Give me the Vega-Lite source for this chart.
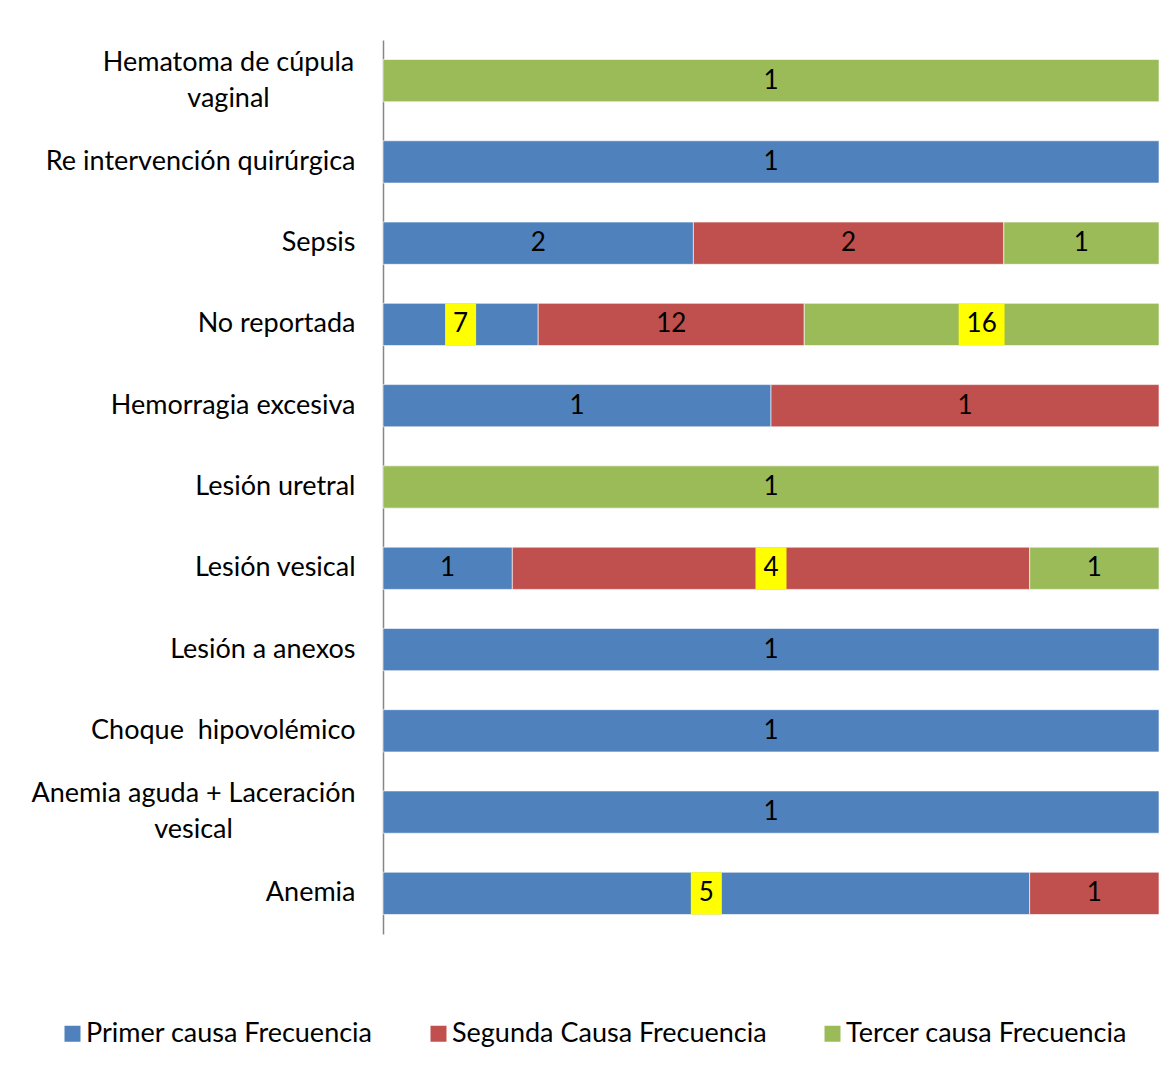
{
  "$schema": "https://vega.github.io/schema/vega-lite/v6.json",
  "width": 776,
  "height": 894,
  "autosize": "none",
  "padding": {"left": 383, "top": 40, "right": 13, "bottom": 154},
  "background": "white",
  "config": {
    "view": {"stroke": null},
    "font": "Lato",
    "text": {"font": "Lato"}
  },
  "data": {
    "values": [
      {"cat": "Hematoma de cúpula vaginal", "causa": "Tercer causa Frecuencia", "value": 1},
      {"cat": "Re intervención quirúrgica", "causa": "Primer causa Frecuencia", "value": 1},
      {"cat": "Sepsis", "causa": "Primer causa Frecuencia", "value": 2},
      {"cat": "Sepsis", "causa": "Segunda Causa Frecuencia", "value": 2},
      {"cat": "Sepsis", "causa": "Tercer causa Frecuencia", "value": 1},
      {"cat": "No reportada", "causa": "Primer causa Frecuencia", "value": 7},
      {"cat": "No reportada", "causa": "Segunda Causa Frecuencia", "value": 12},
      {"cat": "No reportada", "causa": "Tercer causa Frecuencia", "value": 16},
      {"cat": "Hemorragia excesiva", "causa": "Primer causa Frecuencia", "value": 1},
      {"cat": "Hemorragia excesiva", "causa": "Segunda Causa Frecuencia", "value": 1},
      {"cat": "Lesión uretral", "causa": "Tercer causa Frecuencia", "value": 1},
      {"cat": "Lesión vesical", "causa": "Primer causa Frecuencia", "value": 1},
      {"cat": "Lesión vesical", "causa": "Segunda Causa Frecuencia", "value": 4},
      {"cat": "Lesión vesical", "causa": "Tercer causa Frecuencia", "value": 1},
      {"cat": "Lesión a anexos", "causa": "Primer causa Frecuencia", "value": 1},
      {"cat": "Choque  hipovolémico ", "causa": "Primer causa Frecuencia", "value": 1},
      {"cat": "Anemia aguda + Laceración vesical", "causa": "Primer causa Frecuencia", "value": 1},
      {"cat": "Anemia", "causa": "Primer causa Frecuencia", "value": 5},
      {"cat": "Anemia", "causa": "Segunda Causa Frecuencia", "value": 1}
    ]
  },
  "encoding": {
    "y": {
      "field": "cat",
      "type": "nominal",
      "sort": null,
      "scale": {"paddingInner": 0.48, "paddingOuter": 0.24},
      "axis": {
        "title": null,
        "ticks": false,
        "domainColor": "#868686",
        "domainWidth": 1.5,
        "labelFont": "Lato",
        "labelFontSize": 27,
        "labelColor": "#000000",
        "labelPadding": {"condition": [
          {"test": "datum.value == 'Hematoma de cúpula vaginal'", "value": 155},
          {"test": "datum.value == 'Anemia aguda + Laceración vesical'", "value": 190}
        ], "value": 28},
        "labelAlign": {"condition": {"test": "datum.value == 'Hematoma de cúpula vaginal' || datum.value == 'Anemia aguda + Laceración vesical'", "value": "center"}, "value": "right"},
        "labelOffset": {"condition": {"test": "datum.value == 'Hematoma de cúpula vaginal' || datum.value == 'Anemia aguda + Laceración vesical'", "value": -18}, "value": 0},
        "labelLimit": 400,
        "labelLineHeight": 36,
        "labelExpr": "datum.value == 'Hematoma de cúpula vaginal' ? ['Hematoma de cúpula', 'vaginal'] : datum.value == 'Anemia aguda + Laceración vesical' ? ['Anemia aguda + Laceración', 'vesical'] : datum.value == 'Choque  hipovolémico ' ? 'Choque\u00a0\u00a0hipovolémico\u00a0' : datum.value"
      }
    }
  },
  "layer": [
    {
      "mark": {"type": "bar", "stroke": "white", "strokeWidth": 1, "strokeOpacity": 0.6},
      "encoding": {
        "x": {"field": "value", "type": "quantitative", "stack": "normalize", "axis": null, "scale": {"domain": [0, 1], "nice": false}},
        "order": {"field": "causa"},
        "color": {
          "field": "causa",
          "type": "nominal",
          "scale": {
            "domain": ["Primer causa Frecuencia", "Segunda Causa Frecuencia", "Tercer causa Frecuencia"],
            "range": ["#4F81BD", "#C0504D", "#9BBB59"]
          },
          "legend": {
            "title": null,
            "orient": "none",
            "direction": "horizontal",
            "legendX": -324,
            "legendY": 980,
            "symbolType": "square",
            "symbolSize": 256,
            "symbolStrokeWidth": 0,
            "labelFont": "Lato",
            "labelFontSize": 27,
            "labelColor": "#000000",
            "labelOffset": 0,
            "labelLimit": 400,
            "columnPadding": 52,
            "padding": 0
          }
        }
      }
    },
    {
      "mark": {"type": "point", "filled": true, "size": 961, "color": "#FFFF00", "strokeWidth": 0},
      "encoding": {
        "x": {"field": "value", "type": "quantitative", "stack": "normalize", "bandPosition": 0.5},
        "detail": {"field": "causa"},
        "order": {"field": "causa"},
        "shape": {"condition": {"test": "datum.value >= 10", "value": "M-1.48,-1.36H1.48V1.36H-1.48Z"}, "value": "M-1,-1.36H1V1.36H-1Z"},
        "opacity": {"condition": {"test": "indexof([4, 5, 7, 16], datum.value) >= 0", "value": 1}, "value": 0}
      }
    },
    {
      "mark": {"type": "text", "fontSize": 26, "color": "#000000", "font": "Lato"},
      "encoding": {
        "x": {"field": "value", "type": "quantitative", "stack": "normalize", "bandPosition": 0.5},
        "detail": {"field": "causa"},
        "order": {"field": "causa"},
        "text": {"field": "value", "type": "quantitative"}
      }
    }
  ]
}
